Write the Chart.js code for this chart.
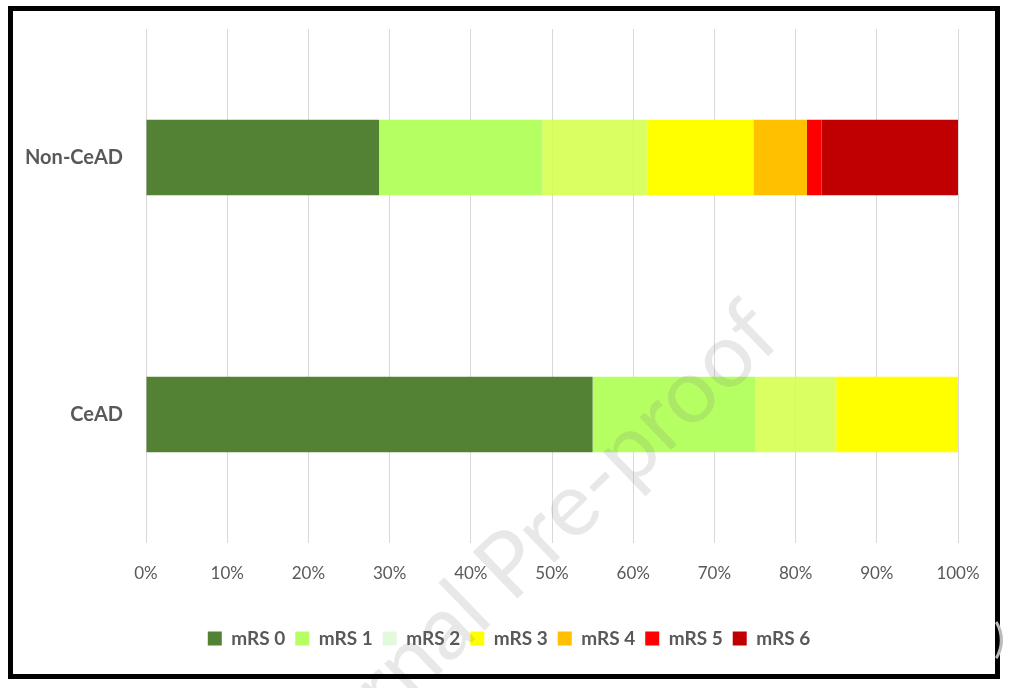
<!DOCTYPE html>
<html>
<head>
<meta charset="utf-8">
<script src="https://cdn.jsdelivr.net/npm/chart.js@4/dist/chart.umd.min.js"></script>
<style>
  html, body { margin: 0; padding: 0; background: #fff; }
  #wrap { position: relative; width: 1018px; height: 688px; }
</style>
</head>
<body>
<div id="wrap"><canvas id="chart" width="1018" height="688"></canvas></div>
<script>
// --- Data (percent of each group) ---
const GROUPS = ['Non-CeAD', 'CeAD'];
const LEVELS = ['mRS 0', 'mRS 1', 'mRS 2', 'mRS 3', 'mRS 4', 'mRS 5', 'mRS 6'];
const NON_CEAD = [28.7, 20.1, 13.0, 13.0, 6.6, 1.8, 16.8];
const CEAD = [55, 20, 10, 15, 0, 0, 0];
const X_TICKS = [0, 10, 20, 30, 40, 50, 60, 70, 80, 90, 100];

const BAR_COLORS = ['#548235', '#B6FF63', 'rgba(210,255,70,0.85)', '#FFFF00', '#FFC000', '#FF0000', '#C00000'];
const SWATCH_COLORS = ['#548235', '#B6FF63', '#E2FADB', '#FFFF00', '#FFC000', '#FF0000', '#C00000'];
const TEXT = '#595959';
const FONT = 'Lato, "Open Sans", sans-serif';

const datasets = LEVELS.map((lv, i) => ({
  label: lv,
  data: [NON_CEAD[i], CEAD[i]],
  backgroundColor: BAR_COLORS[i],
  borderWidth: 0,
  categoryPercentage: 0.58,
  barPercentage: 0.505
}));

// frame + watermark drawn straight on the canvas; legend re-centred on the page
const decor = {
  id: 'decor',
  afterLayout(chart) {
    const lg = chart.legend;
    if (lg) { lg.left = 0; lg.right = chart.width; lg.width = chart.width; }
  },
  afterDraw(chart) {
    const c = chart.ctx;
    c.save();
    // watermark
    c.translate(764, 320);
    c.rotate(-44 * Math.PI / 180);
    c.font = '90px ' + FONT;
    c.fillStyle = 'rgba(120,120,120,0.17)';
    c.textAlign = 'right';
    c.textBaseline = 'middle';
    c.fillText('Journal Pre-proof', 0, 0);
    c.restore();
    c.save();
    c.strokeStyle = '#000';
    c.lineWidth = 5;
    c.strokeRect(10.5, 8.5, 987, 668);
    c.fillStyle = '#bbb';
    c.font = '40px ' + FONT;
    c.fillText(')', 994, 640);
    c.restore();
  }
};

new Chart(document.getElementById('chart'), {
  type: 'bar',
  data: { labels: GROUPS, datasets },
  options: {
    indexAxis: 'y',
    responsive: false,
    animation: false,
    layout: { padding: { top: 29, right: 60, bottom: 30, left: 0 } },
    scales: {
      x: {
        stacked: true,
        min: 0,
        max: 100,
        afterBuildTicks: s => { s.ticks = X_TICKS.map(v => ({ value: v })); },
        afterFit: s => { s.height = 76; },
        grid: { color: '#D9D9D9', drawTicks: false },
        border: { display: false },
        ticks: {
          padding: 20,
          color: TEXT,
          font: { family: FONT, size: 17 },
          callback: v => v + '%'
        }
      },
      y: {
        stacked: true,
        afterFit: s => { s.width = 146; s.paddingTop = 0; s.paddingBottom = 0; },
        grid: { display: false },
        border: { display: false },
        ticks: {
          padding: 15,
          color: TEXT,
          font: { family: FONT, size: 20, weight: 'bold' }
        }
      }
    },
    plugins: {
      tooltip: { enabled: false },
      legend: {
        position: 'bottom',
        labels: {
          color: TEXT,
          font: { family: FONT, size: 19, weight: 'bold' },
          boxWidth: 14,
          boxHeight: 14,
          padding: 10,
          generateLabels: chart => chart.data.datasets.map((d, i) => ({
            text: d.label,
            fillStyle: SWATCH_COLORS[i],
            strokeStyle: SWATCH_COLORS[i],
            lineWidth: 0,
            fontColor: TEXT,
            datasetIndex: i,
            hidden: false
          }))
        }
      }
    }
  },
  plugins: [decor]
});
</script>
</body>
</html>
